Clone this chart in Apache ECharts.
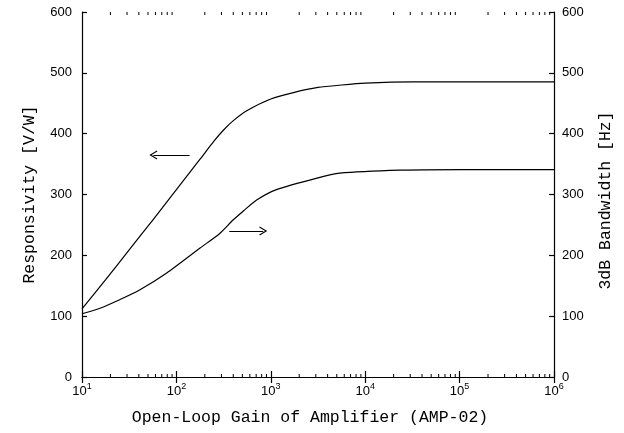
<!DOCTYPE html>
<html>
<head>
<meta charset="utf-8">
<script src="https://cdn.jsdelivr.net/npm/echarts@6/dist/echarts.min.js"></script>
<style>html,body{margin:0;padding:0;background:#fff}#c{width:624px;height:433px}</style>
</head>
<body>
<div id="c"></div>
<script>
// ---- data ----
var respGain   = [10, 17.8, 31.6, 56.2, 100, 178, 251, 316, 398, 562, 1000, 1778, 3162, 5623, 10000, 31623, 100000, 1000000];
var respValues = [112, 160, 209, 258, 308, 358, 388, 406, 421, 438, 457, 468, 476, 480, 483, 485, 485, 485];
var bwGain     = [10, 15.5, 25, 40.7, 79, 178, 288, 398, 513, 708, 1150, 3090, 5370, 23400, 100000, 1000000];
var bwValues   = [104, 113, 127, 143, 171, 212, 236, 258, 273, 291, 308, 327, 335, 340, 341, 341];
var xTickExponents = ['1', '2', '3', '4', '5', '6'];
var minorGain = [20,30,40,50,60,70,80,90,200,300,400,500,600,700,800,900,2000,3000,4000,5000,6000,7000,8000,9000,20000,30000,40000,50000,60000,70000,80000,90000,200000,300000,400000,500000,600000,700000,800000,900000];
var arrowLeft  = [[138, 365], [57, 365]];
var arrowRight = [[363, 240], [832, 240]];
var xTitle = 'Open-Loop Gain of Amplifier (AMP-02)';
var yLeftTitle = 'Responsivity [V/W]';
var yRightTitle = '3dB Bandwidth [Hz]';

var chart = echarts.init(document.getElementById('c'), null, {renderer: 'canvas'});
var monoFont = '"Liberation Mono", "DejaVu Sans Mono", monospace';
var sansFont = '"Liberation Sans", Arial, sans-serif';
var chevron = 'path://M5,0 L10,9 L8.8,9.6 L5,2.6 L1.2,9.6 L0,9 Z';

function zip(a, b) { return a.map(function (v, i) { return [v, b[i]]; }); }

var axisLineStyle = {color: '#000', width: 1.2};

chart.setOption({
  animation: false,
  grid: {left: 82, right: 70, top: 12, bottom: 56},
  xAxis: [{
    type: 'log', logBase: 10, min: 10, max: 1000000,
    position: 'bottom',
    name: xTitle, nameLocation: 'middle', nameGap: 32,
    nameTextStyle: {fontFamily: monoFont, fontSize: 16.5, color: '#000', padding: [0, 16, 0, 0]},
    axisLine: {show: true, lineStyle: axisLineStyle},
    axisTick: {show: true, inside: true, length: 6, lineStyle: {color: '#000', width: 1.2}},
    splitLine: {show: false},
    axisLabel: {
      margin: 6, color: '#000',
      formatter: function (v) {
        var e = Math.round(Math.log10(v));
        var s = xTickExponents[e - 1] || String(e);
        return '{b|10}{s|' + s + '}';
      },
      rich: {
        b: {fontFamily: sansFont, fontSize: 13, color: '#000', lineHeight: 16},
        s: {fontFamily: sansFont, fontSize: 9, color: '#000', padding: [0, 0, 8, 0], lineHeight: 16}
      }
    }
  }, {
    type: 'log', logBase: 10, min: 10, max: 1000000,
    position: 'top',
    axisLine: {show: true, lineStyle: axisLineStyle},
    axisTick: {show: true, inside: true, length: 6, lineStyle: {color: '#000', width: 1.2}},
    axisLabel: {show: false},
    splitLine: {show: false}
  }],
  yAxis: [{
    type: 'value', min: 0, max: 600, interval: 100, position: 'left',
    name: yLeftTitle, nameLocation: 'middle', nameGap: 44,
    nameTextStyle: {fontFamily: monoFont, fontSize: 16.5, color: '#000'},
    axisLine: {show: true, lineStyle: axisLineStyle},
    axisTick: {show: true, inside: true, length: 5, lineStyle: {color: '#000', width: 1.2}},
    splitLine: {show: false},
    axisLabel: {color: '#000', fontFamily: sansFont, fontSize: 13, margin: 10}
  }, {
    type: 'value', min: 0, max: 600, interval: 100, position: 'right',
    name: yRightTitle, nameLocation: 'middle', nameGap: 43, nameRotate: 90,
    nameTextStyle: {fontFamily: monoFont, fontSize: 16.5, color: '#000', padding: [0, 12, 0, 0]},
    axisLine: {show: true, lineStyle: axisLineStyle},
    axisTick: {show: true, inside: true, length: 5, lineStyle: {color: '#000', width: 1.2}},
    splitLine: {show: false},
    axisLabel: {color: '#000', fontFamily: sansFont, fontSize: 13, margin: 8}
  }],
  series: [{
    name: 'Responsivity', type: 'line', xAxisIndex: 0, yAxisIndex: 0,
    data: zip(respGain, respValues), smooth: 0.25, showSymbol: false,
    lineStyle: {color: '#000', width: 1.2},
    markLine: {
      silent: true, symbol: ['none', chevron], symbolSize: [9, 8],
      lineStyle: {color: '#000', width: 1.2, type: 'solid'}, label: {show: false},
      data: [[{coord: arrowLeft[0]}, {coord: arrowLeft[1]}]]
    }
  }, {
    name: 'Bandwidth', type: 'line', xAxisIndex: 0, yAxisIndex: 1,
    data: zip(bwGain, bwValues), smooth: 0.25, showSymbol: false,
    lineStyle: {color: '#000', width: 1.2},
    markLine: {
      silent: true, symbol: ['none', chevron], symbolSize: [9, 8],
      lineStyle: {color: '#000', width: 1.2, type: 'solid'}, label: {show: false},
      data: [[{coord: arrowRight[0]}, {coord: arrowRight[1]}]]
    }
  }, {
    name: 'minorTicks', type: 'custom', xAxisIndex: 0, yAxisIndex: 0, silent: true,
    data: minorGain.map(function (g) { return [g, 0]; }),
    renderItem: function (params, api) {
      var b = api.coord([api.value(0), 0]);
      var t = api.coord([api.value(0), 600]);
      return {type: 'group', children: [
        {type: 'line', shape: {x1: b[0], y1: b[1], x2: b[0], y2: b[1] - 3}, style: {stroke: '#000', lineWidth: 1}},
        {type: 'line', shape: {x1: t[0], y1: t[1], x2: t[0], y2: t[1] + 3}, style: {stroke: '#000', lineWidth: 1}}
      ]};
    }
  }]
});
</script>
</body>
</html>
